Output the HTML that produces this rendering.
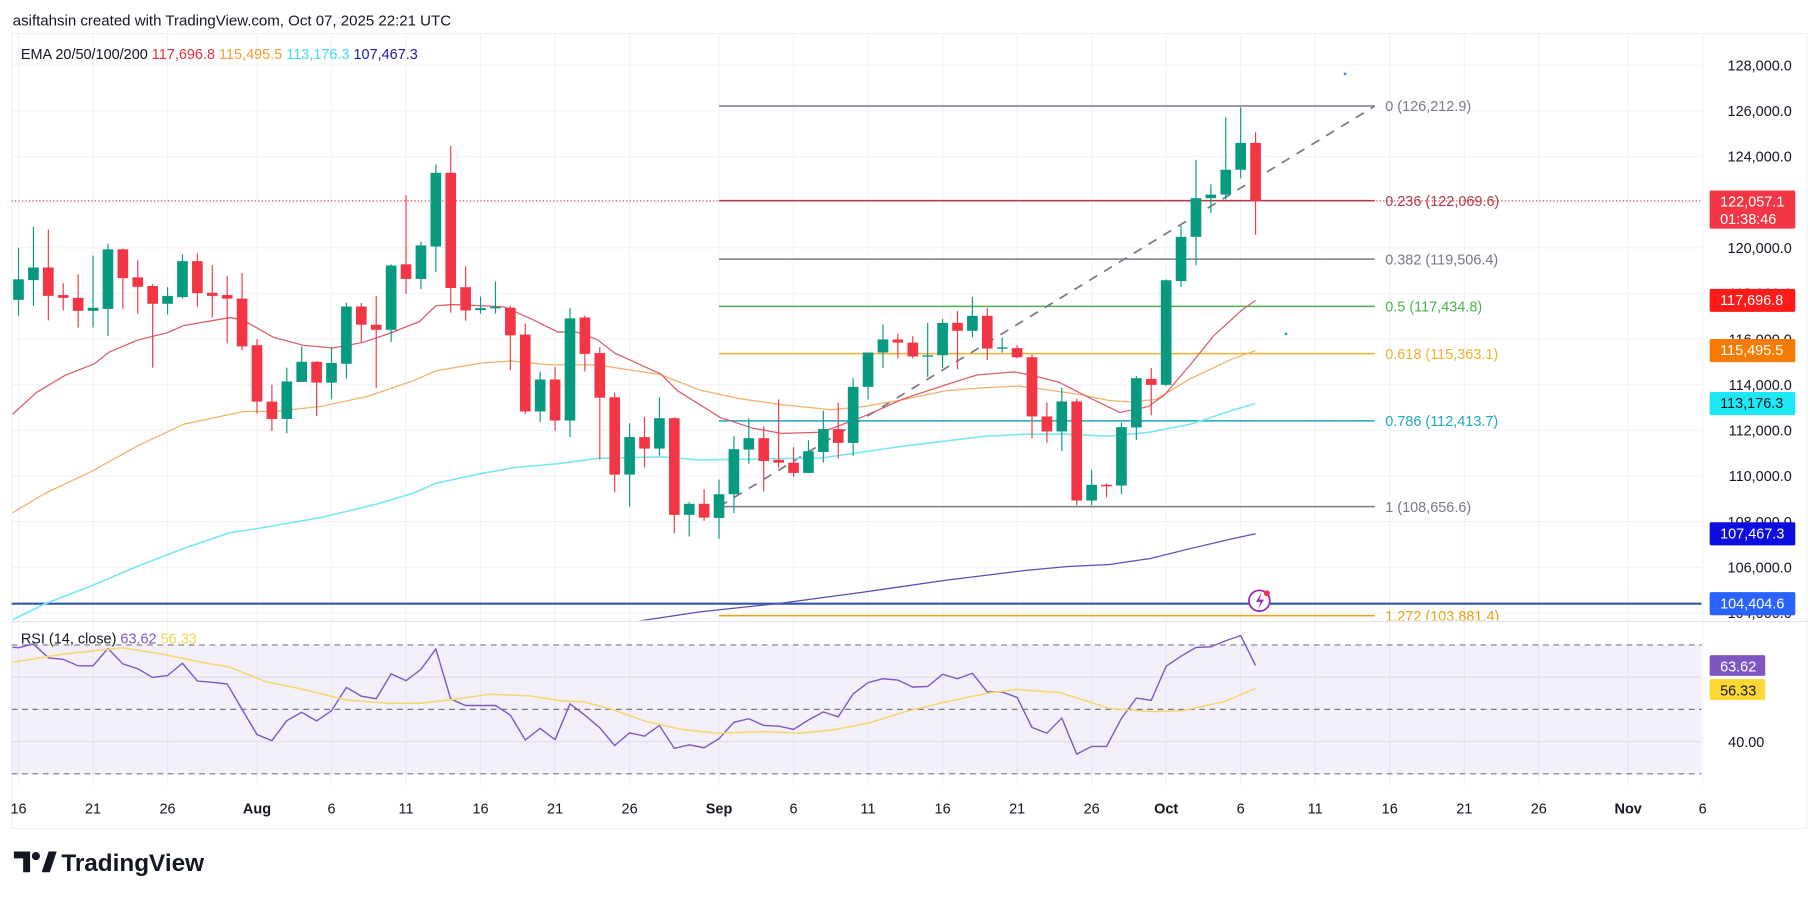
<!DOCTYPE html>
<html><head><meta charset="utf-8"><style>
html,body{margin:0;padding:0;background:#fff;}
svg{display:block;font-family:"Liberation Sans",sans-serif;}
</style></head><body>
<svg id="chart" width="1815" height="900" viewBox="0 0 1568 779" preserveAspectRatio="none" xmlns="http://www.w3.org/2000/svg">
<rect x="0" y="0" width="1568" height="779" fill="#ffffff"/>
<text x="11" y="22" font-size="13" fill="#131722">asiftahsin created with TradingView.com, Oct 07, 2025 22:21 UTC</text>
<rect x="10" y="29" width="1551" height="688" fill="none" stroke="#eef0f4" stroke-width="1"/>
<g id="grid"></g>
<defs>
<clipPath id="mainClip"><rect x="10" y="30" width="1460" height="507"/></clipPath>
<clipPath id="rsiClip"><rect x="10" y="539" width="1460" height="140"/></clipPath>
</defs>
<g id="main" clip-path="url(#mainClip)"></g>
<line x1="10" y1="538" x2="1561" y2="538" stroke="#e0e3eb" stroke-width="1"/>
<g id="rsi" clip-path="url(#rsiClip)"></g>
<g id="axes"></g>
<text x="18" y="51" font-size="12.5"><tspan fill="#131722">EMA 20/50/100/200 </tspan><tspan fill="#e0303c"> 117,696.8 </tspan><tspan fill="#f0a030"> 115,495.5 </tspan><tspan fill="#3ee0e8"> 113,176.3 </tspan><tspan fill="#1c1c9c"> 107,467.3</tspan></text>
<text x="18" y="557" font-size="12.5"><tspan fill="#131722">RSI (14, close) </tspan><tspan fill="#7e57c2"> 63.62 </tspan><tspan fill="#f0d850"> 56.33</tspan></text>
<g>
<path d="M12 737 h14 v18 h-6 v-12 h-8 z" fill="#131722"/>
<circle cx="31" cy="741" r="3.5" fill="#131722"/>
<path d="M36 755 l6 -18 h7 l-6 18 z" fill="#131722"/>
<text x="53" y="754" font-size="21" font-weight="bold" fill="#131722">TradingView</text>
</g>
</svg>
<script>
// ===== data =====
const opens=[117720,118585,119138,117930,117808,117237,117323,119934,118706,118326,117548,117841,119415,118031,117930,117773,115732,113260,112500,114124,115006,114090,114919,117427,116631,116406,119277,118637,120055,123288,118274,117271,117357,117375,116199,112828,114228,112431,116943,115386,113450,110061,111704,111202,112534,108298,108782,108163,109201,111157,111658,110706,110585,110135,111053,112056,111451,113907,115412,115983,115845,115239,115291,116710,116364,117021,115585,115603,115205,112610,111952,113266,108924,109616,109582,112125,114253,113994,118543,120481,122176,122332,123422,124598];
const closes=[118620,119138,117893,117808,117237,117375,119934,118672,118291,117548,117893,119415,118014,117893,117773,115680,113260,112500,114142,115006,114090,114954,117427,116631,116406,119225,118637,120106,123288,118239,117253,117357,117410,116164,112828,114228,112431,116908,115352,113433,110061,111704,111202,112534,108298,108782,108177,109201,111174,111658,110654,110585,110135,111088,112056,111451,113907,115412,115983,115845,115239,115291,116710,116364,117021,115585,115637,115205,112610,111952,113266,108924,109616,109547,112142,114288,113994,118578,120481,122176,122332,123422,124598,122057];
const highs=[120003,120920,120800,118447,118844,119657,120176,119968,119450,118412,118274,119709,119761,119242,118758,118896,115992,114003,114747,115680,115040,115646,117583,117583,117894,119277,122303,120280,123651,124464,119190,117858,118533,117462,116683,114574,114782,117375,117029,115646,113658,112310,112587,113450,112587,108851,109421,109841,111745,112523,112177,113353,111261,111572,112869,113215,114288,115412,116641,116243,116122,116710,116883,117229,117852,117367,116070,115724,115326,113215,113872,113388,110274,109668,112350,114391,114738,118613,120965,123855,122781,125723,126155,125066];
const lows=[117030,117460,116822,117253,116510,116510,116130,117323,117115,114747,117081,117772,117410,116943,115819,115508,112742,111981,111877,114124,112621,113364,114263,115853,113865,115870,117980,118188,118931,117167,116804,117115,117115,114643,112707,112362,111981,111704,114574,110718,109283,108645,110372,110890,107485,107347,108039,107246,108371,110533,109322,110360,109962,110135,110585,110758,110879,113353,114738,115153,115153,114339,114738,114685,116070,115083,115412,115153,111658,111451,111088,108717,108717,109063,109201,111572,112661,113942,118284,119235,121519,122124,123041,120567];

const ema20Idx=[-0.4,1.2,3.1,5.1,6.1,8,10,11.1,14.2,15.1,17.1,19.1,21.1,23.1,24.9,26.9,28,29.1,31.1,32.6,34.5,36.2,37.3,38.8,40,43.1,44.2,45.7,47.1,49.3,51.2,53.9,56.7,59.4,62.2,64.3,66.8,67.9,69.8,71.7,73.9,75.8,76.9,78.6,80.2,82.1,83];
const ema20Vals=[112706,113657,114401,114920,115438,115957,116285,116597,116943,116822,116078,115732,115611,115853,116251,116770,117461,117513,117461,117410,116856,116303,116337,115992,115386,114470,113744,113129,112557,112090,111866,111918,112610,113388,113994,114426,114564,114426,114115,113475,112783,113042,113561,114858,116155,117281,117697];
const ema50Idx=[-0.4,1.8,4.9,8,11.1,15.1,17.2,20.3,23.4,26.5,28,31.1,33.1,35.7,38.8,43.1,45.7,48.4,51.2,54.5,56.7,59.4,62.2,64.9,67.1,69.1,71.3,73.2,74.6,76.3,78.6,81.4,83];
const ema50Vals=[108384,109249,110200,111324,112274,112828,112828,113052,113485,114176,114609,114955,115041,114868,114868,114436,113768,113388,113129,112904,113042,113353,113734,113873,113942,113769,113561,113302,113250,113353,114253,115118,115496];
const ema100Idx=[-0.4,1.8,4.9,8,11.1,14.2,16,20.3,24,26.5,28,31.1,33.3,36.3,38.8,43.1,45.7,47.1,53.9,59.4,64.9,67.6,70.4,73.2,75.9,78.6,81.4,83];
const ema100Vals=[103700,104408,105186,106050,106829,107520,107693,108177,108765,109249,109681,110114,110372,110545,110770,110839,110706,110718,110793,111312,111745,111831,111831,111745,111918,112264,112869,113176];
const ema200Idx=[38,41.9,45.7,51.2,56.7,62.2,67.6,70.4,73.2,75.9,78.6,81.4,83];
const ema200Vals=[103300,103671,104046,104426,104911,105430,105862,106035,106122,106381,106814,107246,107467];

const rsiVals=[69.1,70.3,66.0,65.5,63.5,63.5,68.9,64.1,62.6,59.9,60.5,64.3,58.8,58.4,57.9,50.0,42.2,40.3,46.5,49.1,46.4,49.6,56.8,54.1,53.3,61.0,58.9,62.4,68.7,53.2,51.2,51.2,51.2,48.2,40.5,44.1,40.6,51.7,48.2,44.3,38.8,42.7,41.7,45.0,37.9,39.0,38.1,40.9,46.0,47.1,45.0,44.8,43.8,46.7,49.2,47.7,54.8,58.3,59.5,59.1,56.9,57.1,60.9,59.5,61.2,55.4,55.4,53.7,44.4,42.6,47.3,36.1,38.5,38.5,47.2,53.5,52.8,63.4,66.5,69.2,69.4,71.3,72.9,63.6];
const rsiMaIdx=[-0.4,2.9,7,9.7,12.4,14.1,16.6,19.3,22,24.8,26.9,28.9,31.6,34.3,36.5,37.9,39.8,42,44.5,46.9,50,52.4,54.6,57,59.5,62.3,65,66.9,69.9,73.2,76,78.1,80.9,83];
const rsiMaVals=[64.6,67.1,69.1,67.1,64.5,63.2,58.6,56.0,52.9,51.9,51.9,52.9,54.7,54.2,52.6,52.4,50.0,46.4,43.8,42.6,43.1,42.6,43.6,45.7,49.3,52.4,55.0,56.2,55.2,50.3,49.3,49.6,52.4,56.5];

const priceTicks=[128000,126000,124000,122000,120000,118000,116000,114000,112000,110000,108000,106000,104000];
const timeLabels=["16","21","26","Aug","6","11","16","21","26","Sep","6","11","16","21","26","Oct","6","11","16","21","26","Nov","6"];
const timeDays=[0,5,10,16,21,26,31,36,41,47,52,57,62,67,72,77,82,87,92,97,102,108,113];

const fibRatios=["0","0.236","0.382","0.5","0.618","0.786","1","1.272"];
const fibPrices=[126212.9,122069.6,119506.4,117434.8,115363.1,112413.7,108656.6,103881.4];
const fibColors=["#787b86","#b8394a","#787b86","#4caf50","#f2b02e","#1fa9b8","#787b86","#e8a317"];
const fibStartDay=47, fibEndDay=91;
const lastPrice=122057.1, hLinePrice=104404.6;

// ===== scales =====
const NS="http://www.w3.org/2000/svg";
const xOf=i=>16+12.876*i;
const yP=p=>96+(126000-p)*0.01975;
const yR=r=>614-(r-50)*2.79;
function mk(tag,attrs,parent){const e=document.createElementNS(NS,tag);for(const k in attrs)e.setAttribute(k,attrs[k]);parent.appendChild(e);return e;}
const grid=document.getElementById('grid'),main=document.getElementById('main'),rsi=document.getElementById('rsi'),axes=document.getElementById('axes');
const fmt=(v,d)=>v.toLocaleString('en-US',{minimumFractionDigits:d,maximumFractionDigits:d});

// grid
timeDays.forEach((d,k)=>{
  const l=mk('line',{x1:xOf(d),x2:xOf(d),y1:30,y2:680,stroke:'#f0f3fa','stroke-width':1},grid);
  
  
  const t=mk('text',{x:xOf(d),y:704,'font-size':12.5,fill:'#131722','text-anchor':'middle','font-weight':(isNaN(+timeLabels[k])?'bold':'normal')},axes);
  t.textContent=timeLabels[k];
  
  
});
priceTicks.forEach(p=>{
  if(yP(p)<537){
    const l=mk('line',{x1:10,x2:1470,y1:yP(p),y2:yP(p),stroke:'#f0f3fa','stroke-width':1},grid);
    
    
  }
  const t=mk('text',{x:1548,y:yP(p)+4.5,'font-size':12.5,fill:'#131722','text-anchor':'end'},axes);
  t.textContent=fmt(p,1);
  
  
});
[70,50,30].forEach(v=>{
  const l=mk('line',{x1:10,x2:1470,y1:yR(v),y2:yR(v),stroke:'#787b86','stroke-width':1,'stroke-dasharray':'5,4'},rsi);
  
  
});
[60,40].forEach(v=>{
  const l=mk('line',{x1:10,x2:1470,y1:yR(v),y2:yR(v),stroke:'#ece8f4','stroke-width':1},grid);
  
  
});
const band=mk('rect',{x:10,y:yR(70),width:1460,height:yR(30)-yR(70),fill:'#7e57c2','fill-opacity':0.09},rsi);


const t40=mk('text',{x:1493,y:yR(40)+4.5,'font-size':12.5,fill:'#131722'},axes);
t40.textContent='40.00';



// horizontal lines
const hl=mk('line',{x1:10,x2:1470,y1:yP(hLinePrice),y2:yP(hLinePrice),stroke:'#2e56a8','stroke-width':1.8},main);


const cur=mk('line',{x1:10,x2:1470,y1:yP(lastPrice),y2:yP(lastPrice),stroke:'#f23645','stroke-width':1,'stroke-dasharray':'1,2'},main);



// fib
fibPrices.forEach((p,k)=>{
  const l=mk('line',{x1:xOf(fibStartDay),x2:xOf(fibEndDay),y1:yP(p),y2:yP(p),stroke:fibColors[k],'stroke-width':1.3},main);
  
  
  const t=mk('text',{x:xOf(fibEndDay)+9,y:yP(p)+4.5,'font-size':12.5,fill:fibColors[k]},main);
  t.textContent=fibRatios[k]+' ('+fmt(p,1)+')';
  
  
});
const tr=mk('line',{x1:xOf(fibStartDay),y1:yP(fibPrices[6]),x2:xOf(fibEndDay),y2:yP(fibPrices[0]),stroke:'#787b86','stroke-width':1.5,'stroke-dasharray':'8,7'},main);



// EMAs
function poly(idx,vals,color,name,w){
  const pts=idx.map((i,k)=>xOf(i)+','+yP(vals[k])).join(' ');
  const e=mk('polyline',{points:pts,fill:'none',stroke:color,'stroke-width':w||1.1},main);
  
  
}
poly(ema200Idx,ema200Vals,'#5a4fb8','ema-200-line');
poly(ema100Idx,ema100Vals,'#7ae8ee','ema-100-line',1.4);
poly(ema50Idx,ema50Vals,'#f2b068','ema-50-line');
poly(ema20Idx,ema20Vals,'#d7606a','ema-20-line');

// candles
opens.forEach((o,i)=>{
  const c=closes[i],up=c>=o,col=up?'#089981':'#f23645',x=xOf(i);
  const w=mk('line',{x1:x,x2:x,y1:yP(highs[i]),y2:yP(lows[i]),stroke:col,'stroke-width':1},main);
  
  
  const top=yP(Math.max(o,c)),h=Math.max(1.2,Math.abs(yP(o)-yP(c)));
  const b=mk('rect',{x:x-4.6,y:top,width:9.2,height:h,fill:col},main);
  
  
});

// small dots & icon
[[1162,64],[1111,289]].forEach(d=>{const e=mk('circle',{cx:d[0],cy:d[1],r:1.2,fill:'#26a6b8'},main);});
const ic=mk('g',{},main);


mk('circle',{cx:1088,cy:520,r:9,fill:'#fff',stroke:'#9c27b0','stroke-width':1.5},ic);
mk('path',{d:'M1090 513 l-5 8 h4 l-2 6 l5 -8 h-4 z',fill:'#9c27b0'},ic);
mk('circle',{cx:1094.5,cy:513.5,r:2.6,fill:'#f23645'},ic);

// RSI lines
const rp=rsiVals.map((v,i)=>xOf(i)+','+yR(v)).join(' ');
const rl=mk('polyline',{points:(xOf(-0.4))+','+yR(rsiVals[0]+0.2)+' '+rp,fill:'none',stroke:'#7e57c2','stroke-width':1.2},rsi);


const mp=rsiMaIdx.map((i,k)=>xOf(i)+','+yR(rsiMaVals[k])).join(' ');
const ml=mk('polyline',{points:mp,fill:'none',stroke:'#f5d76e','stroke-width':1.3},rsi);



// badges
function badge(y,h,bg,fg,lines,name,w){
  const g=mk('g',{},axes);
  
  
  mk('rect',{x:1477,y:y,width:w||74,height:h,fill:bg,rx:1.5},g);
  lines.forEach((s,k)=>{const t=mk('text',{x:1486,y:y+14+k*15,'font-size':12.5,fill:fg},g);t.textContent=s;});
}
badge(yP(lastPrice)-9,33,'#f23645','#fff',[fmt(lastPrice,1),'01:38:46'],'current-price-badge');
badge(yP(ema20Vals[ema20Vals.length-1])-10,20,'#ff1a1a','#fff',['117,696.8'],'ema20-badge');
badge(yP(ema50Vals[ema50Vals.length-1])-10,20,'#f57c00','#fff',['115,495.5'],'ema50-badge');
badge(yP(ema100Vals[ema100Vals.length-1])-10,20,'#1ce8f5','#131722',['113,176.3'],'ema100-badge');
badge(yP(ema200Vals[ema200Vals.length-1])-10,20,'#0d0de0','#fff',['107,467.3'],'ema200-badge');
badge(yP(hLinePrice)-10,20,'#2962ff','#fff',[fmt(hLinePrice,1)],'horizontal-line-badge');
badge(yR(rsiVals[rsiVals.length-1])-9,18,'#7e57c2','#fff',['63.62'],'rsi-badge',48);
badge(yR(rsiMaVals[rsiMaVals.length-1])-8,18,'#fdd835','#131722',['56.33'],'rsi-ma-badge',48);
</script>
</body></html>
